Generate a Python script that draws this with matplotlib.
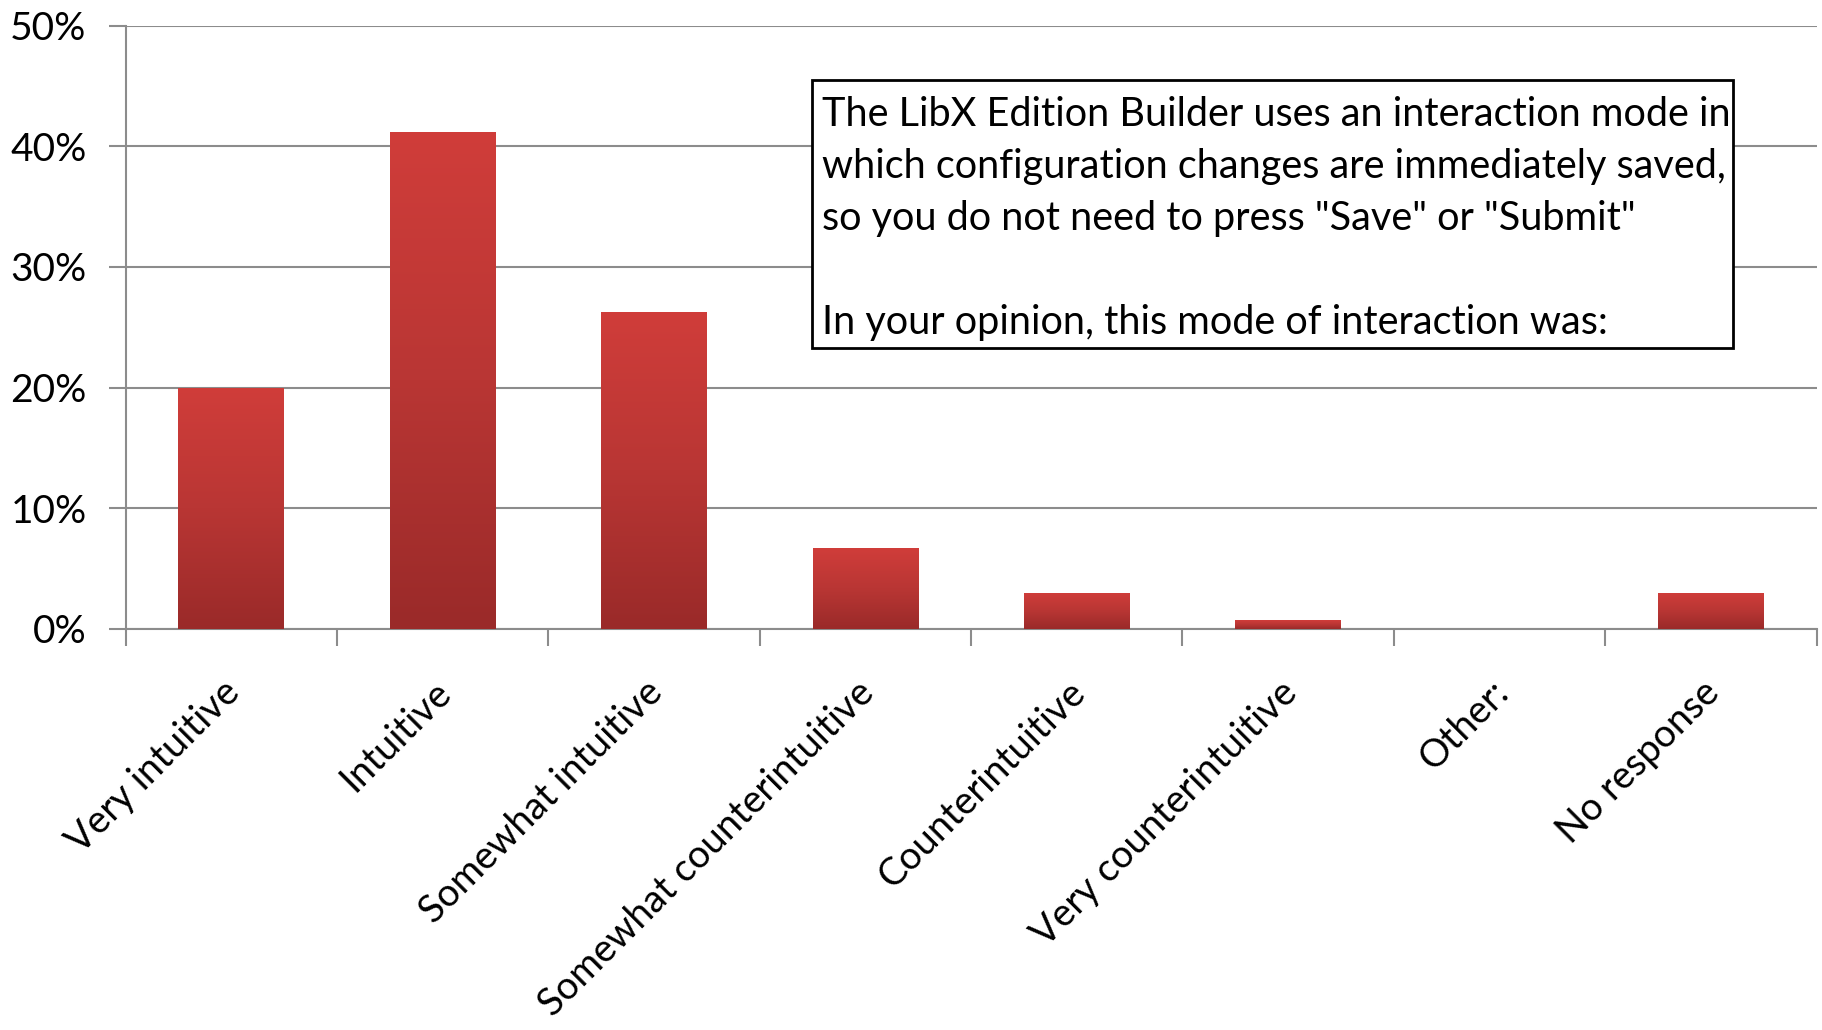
import matplotlib
matplotlib.use("Agg")
import matplotlib.pyplot as plt
import numpy as np
from matplotlib.patches import Rectangle
from matplotlib.ticker import FuncFormatter, FixedLocator
from matplotlib.colors import LinearSegmentedColormap

categories = ["Very intuitive", "Intuitive", "Somewhat intuitive",
              "Somewhat counterintuitive", "Counterintuitive",
              "Very counterintuitive", "Other:", "No response"]
values = [20.0, 41.2, 26.3, 6.7, 3.0, 0.7, 0.0, 3.0]
yticks = [0, 10, 20, 30, 40, 50]
box_text = ("The LibX Edition Builder uses an interaction mode in\n"
            "which configuration changes are immediately saved,\n"
            "so you do not need to press \"Save\" or \"Submit\"\n"
            "\n"
            "In your opinion, this mode of interaction was:")

plt.rcParams['font.family'] = ['Lato', 'DejaVu Sans']

fig = plt.figure(figsize=(18.22, 10.30), dpi=100)
ax = fig.add_axes([0.0689, 0.3894, 0.9281, 0.5858])

x = np.arange(len(categories))
bars = ax.bar(x, values, width=0.5, color="#B83533", zorder=3)

grad = np.linspace(0, 1, 256).reshape(-1, 1)
cmap = LinearSegmentedColormap.from_list("g", ["#9A2A29", "#B93634", "#D03D3A"])
for b in bars:
    if b.get_height() <= 0:
        continue
    x0, y0 = b.get_x(), b.get_y()
    w, h = b.get_width(), b.get_height()
    im = ax.imshow(grad, extent=[x0, x0 + w, y0, y0 + h], origin="lower",
                   cmap=cmap, aspect="auto", zorder=4)
    im.set_clip_path(b)

ax.set_xlim(-0.5, len(categories) - 0.5)
ax.set_ylim(0, 50)
ax.yaxis.set_major_locator(FixedLocator(yticks))
ax.yaxis.set_major_formatter(FuncFormatter(lambda v, p: f"{v:.0f}%"))
ax.grid(axis="y", color="#8C8C8C", linewidth=1.5, zorder=0)

ax.set_xticks(np.arange(-0.5, len(categories) + 0.5, 1.0))
ax.set_xticklabels([])
ax.tick_params(axis="x", length=12, width=1.5, color="#8C8C8C", direction="out")
ax.tick_params(axis="y", length=12, width=1.5, color="#8C8C8C", direction="out",
               labelsize=28, pad=16)

for s in ["top", "right"]:
    ax.spines[s].set_visible(False)
for s in ["left", "bottom"]:
    ax.spines[s].set_color("#8C8C8C")
    ax.spines[s].set_linewidth(1.5)

for i, c in enumerate(categories):
    ax.annotate(c, xy=(i, 0), xycoords=("data", "axes fraction"),
                xytext=(-7, -32.5), textcoords="offset points",
                rotation=45, ha="right", va="top", rotation_mode="anchor",
                fontsize=27.5)

fig.patches.append(Rectangle((0.4458, 0.6625), 0.9509 - 0.4458, 0.9221 - 0.6625,
                             transform=fig.transFigure, facecolor="white",
                             edgecolor="black", linewidth=2, zorder=10))
fig.text(0.4511, 0.9072, box_text, ha="left", va="top", fontsize=28.5,
         linespacing=1.5, zorder=11)

fig.savefig("out.png", dpi=100, facecolor="white")
